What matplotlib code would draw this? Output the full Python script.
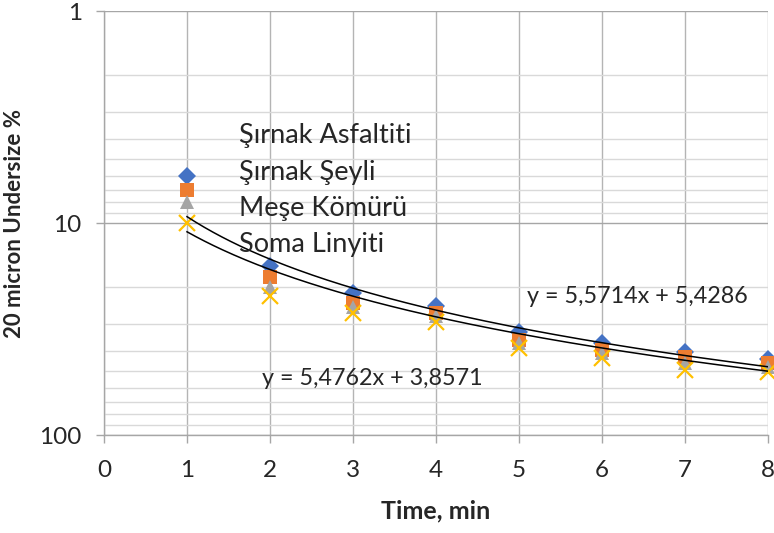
import numpy as np
import matplotlib
matplotlib.use("Agg")
import matplotlib.pyplot as plt
from matplotlib.ticker import FixedLocator, FixedFormatter, LogLocator, NullFormatter

plt.rcParams['font.family'] = ['Lato', 'DejaVu Sans']

time_min = [1, 2, 3, 4, 5, 6, 7, 8]
series_names = ['Şırnak Asfaltiti', 'Şırnak Şeyli', 'Meşe Kömürü', 'Soma Linyiti']
asfaltit = [6.0, 16.0, 21.5, 24.5, 32.6, 36.8, 40.5, 44.0]
seyl = [7.0, 18.0, 23.9, 26.6, 35.6, 39.7, 43.0, 45.7]
mese = [8.0, 20.0, 24.8, 27.5, 36.8, 41.1, 45.7, 47.8]
soma = [10.0, 22.0, 26.5, 29.2, 38.9, 43.3, 49.4, 50.5]

# linear trend lines (slope, intercept) as printed on the chart
trend_a = (5.5714, 5.4286)
trend_b = (5.4762, 3.8571)

colors = ['#4472C4', '#ED7D31', '#A5A5A5', '#FFC000']
markers = ['D', 's', '^', 'x']
sizes = [9, 10, 10.5, 11]
txt = '#262626'

fig = plt.figure(figsize=(7.74, 5.33), dpi=100)
ax = fig.add_axes([104/774, 1 - 435/533, 664/774, 424/533])

for vals, name, c, m, ms in zip([asfaltit, seyl, mese, soma], series_names, colors, markers, sizes):
    if m == 'x':
        ax.plot(time_min, vals, ls='none', marker=m, ms=ms, mew=1.6, color=c,
                label=name, clip_on=False, zorder=3)
    else:
        ax.plot(time_min, vals, ls='none', marker=m, ms=ms, mew=0, color=c,
                label=name, clip_on=False, zorder=3)

xt = np.linspace(1, 8, 200)
for k, b in (trend_a, trend_b):
    ax.plot(xt, k * xt + b, color='black', lw=1.1, zorder=4)

eq_font = dict(fontsize=16.8, color=txt, ha='left', va='center')
ax.text(5.1, 22.3, 'y = 5,5714x + 5,4286', **eq_font)
ax.text(1.9, 53.9, 'y = 5,4762x + 3,8571', **eq_font)

ax.set_yscale('log')
ax.set_ylim(100, 1)
ax.set_xlim(0, 8)

ax.xaxis.set_major_locator(FixedLocator(range(0, 9)))
ax.yaxis.set_major_locator(FixedLocator([1, 10, 100]))
ax.yaxis.set_major_formatter(FixedFormatter(['1', '10', '100']))
ax.yaxis.set_minor_locator(LogLocator(base=10, subs=np.arange(2, 10)))
ax.yaxis.set_minor_formatter(NullFormatter())

ax.grid(True, axis='x', which='major', color='#B4B4B4', lw=1.0)
ax.grid(True, axis='y', which='major', color='#A6A6A6', lw=1.0)
ax.grid(True, axis='y', which='minor', color='#D9D9D9', lw=1.0)
ax.set_axisbelow(True)

for side in ('top', 'right'):
    ax.spines[side].set_visible(False)
for side in ('left', 'bottom'):
    ax.spines[side].set_color('#A6A6A6')
    ax.spines[side].set_linewidth(1.0)

ax.tick_params(axis='both', which='major', direction='out', length=6, width=1.0,
               color='#A6A6A6', labelsize=17.5, labelcolor=txt)
ax.tick_params(axis='x', pad=12)
ax.tick_params(axis='y', pad=10)
ax.tick_params(axis='y', which='minor', length=0)

ax.set_xlabel('Time, min', fontsize=18, fontweight='bold', color=txt, labelpad=13)
ax.set_ylabel('20 micron Undersize %', fontsize=16, fontweight='bold', color=txt)
ax.yaxis.set_label_coords(-0.119, 0.5)

leg = ax.legend(loc='upper left', bbox_to_anchor=(0.1865, 0.761), frameon=False,
                handlelength=0, handletextpad=0, fontsize=19.5, labelspacing=0.42,
                borderaxespad=0, labelcolor=txt)
for h in leg.legend_handles:
    h.set_visible(False)

fig.savefig('out.png', dpi=100)
